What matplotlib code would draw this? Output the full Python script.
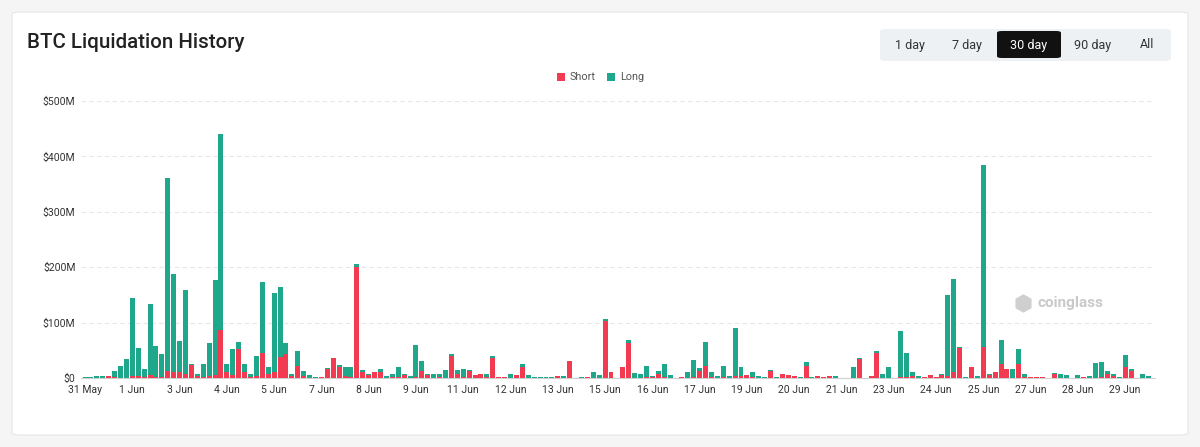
import matplotlib
matplotlib.use("Agg")
import matplotlib.pyplot as plt
from matplotlib.patches import FancyBboxPatch, Rectangle
import numpy as np

plt.rcParams['font.family'] = ['Roboto', 'DejaVu Sans']

# 4-hour buckets, values in $M
short = [0.3, 0.3, 0.5, 0.5, 3.5, 1, 0.5, 0.5, 4, 4,
         1, 5, 1, 1, 12.6, 11, 11, 7, 24, 4,
         1, 3.5, 6, 87, 10, 6, 53, 11, 2, 4,
         45, 7, 11, 38, 43, 4, 22, 4, 0.5, 0.5,
         2, 17, 36, 20, 4, 1, 201, 11, 5, 10,
         11, 0.5, 1, 1, 6, 0.5, 2.4, 13, 5, 0.5,
         1, 0.5, 40, 7, 1, 13, 5, 7, 2, 37,
         2.4, 2, 0.5, 5, 19, 0.5, 0.3, 0.3, 0.7, 0.7,
         3.6, 0.5, 30, 0, 0.3, 1.2, 0.5, 0.3, 103, 10,
         0.3, 19, 64, 0.5, 0.5, 2.5, 2.5, 7, 2, 0.3,
         0, 2, 0.3, 2, 13, 22, 2, 0.3, 2.4, 0.3,
         4, 4, 5, 2.4, 0.3, 0.3, 12.6, 0.3, 7, 5.4,
         4, 0.2, 22, 0.2, 3, 2, 3.6, 0.3, 0.3, 0.3,
         0.5, 34, 0.3, 3.6, 45, 0.5, 0.5, 0.3, 1, 1.5,
         4, 0.5, 2, 5, 2, 5, 4, 11, 54, 0.2,
         19, 0.3, 56, 5, 10, 25, 16, 0.5, 26, 2,
         2, 1.5, 1.5, 0.2, 8, 0.3, 0.3, 0.2, 0.3, 2.4,
         0.3, 0.5, 2, 8, 4, 0.3, 19, 13, 0.2, 0.3,
         0.3]
long = [0.7, 0.7, 3, 3, 0.8, 11.5, 20.5, 34.5, 141, 51,
        15, 129, 57, 42, 348, 176, 55, 151, 2, 3,
        25, 59.5, 170, 353, 15, 46, 12, 14, 6, 36,
        128, 12, 143, 127, 21, 4, 26, 8.6, 4.5, 1.5,
        0.3, 0.5, 1, 3, 16.5, 19.5, 4, 3, 3, 1,
        5, 3.5, 6, 19, 2, 3, 57.6, 17, 2, 6.5,
        6, 13.5, 3, 7.5, 16, 1.5, 0.3, 1, 6, 3,
        0.3, 0.3, 7.5, 0.3, 6, 4.5, 1.7, 0.7, 0.3, 0.3,
        0.3, 2.5, 0.5, 0, 1.2, 0.3, 9.5, 5.2, 3, 1.5,
        0.5, 1, 4, 8, 7.5, 19.5, 0.3, 5, 23, 5.2,
        0, 0, 9.7, 30, 5, 43, 8, 3.3, 19.6, 3.3,
        87, 15, 0.3, 7.6, 3.7, 0.7, 1.4, 2.1, 0.3, 0.3,
        0.3, 1, 6, 1, 0.2, 0.2, 0.2, 2.7, 0.5, 0.5,
        18.5, 3, 0.5, 0.2, 3, 7.5, 18.5, 0.5, 84, 44.5,
        6, 3.5, 0.2, 0.3, 0.2, 2, 145, 168, 2, 1,
        0.3, 3.7, 328, 3, 0.5, 43, 0.5, 15.5, 27, 5,
        0.2, 0.2, 0.2, 0.5, 1, 7.7, 5.7, 0.5, 4.7, 0.2,
        3.7, 26.5, 26, 4, 3, 2, 22, 3, 0.3, 7,
        3.3]
tick_labels = ["31 May", "1 Jun", "3 Jun", "4 Jun", "5 Jun", "7 Jun", "8 Jun",
               "9 Jun", "11 Jun", "12 Jun", "13 Jun", "15 Jun", "16 Jun", "17 Jun",
               "19 Jun", "20 Jun", "21 Jun", "23 Jun", "24 Jun", "25 Jun",
               "27 Jun", "28 Jun", "29 Jun"]
y_ticks = [0, 100, 200, 300, 400, 500]
y_labels = ["$0", "$100M", "$200M", "$300M", "$400M", "$500M"]
buttons = ["1 day", "7 day", "30 day", "90 day", "All"]

RED = '#f23b51'
TEAL = '#1fa78c'

W, H = 1200, 447
fig = plt.figure(figsize=(W / 100, H / 100), dpi=100)
fig.patch.set_facecolor('#f5f5f5')

# white card
card = FancyBboxPatch((12 / W, 12 / H), (1176) / W, (423) / H,
                      boxstyle="round,pad=0,rounding_size=0.006",
                      transform=fig.transFigure, facecolor='white',
                      edgecolor='#e6e6e6', linewidth=0.8, zorder=-10)
fig.patches.append(card)

ax = fig.add_axes([81 / W, (H - 378) / H, (1155 - 81) / W, (378 - 101) / H])
ax.set_zorder(5)
ax.set_facecolor('none')
x = np.arange(len(short))
ax.bar(x, short, width=0.84, color=RED, linewidth=0, zorder=3)
ax.bar(x, long, bottom=short, width=0.84, color=TEAL, linewidth=0, zorder=3)

ax.set_xlim(-0.68, 181.05)
ax.set_ylim(0, 500)
ax.set_yticks(y_ticks)
ax.set_yticklabels(y_labels)
ax.set_xticks(np.arange(len(tick_labels)) * 8)
ax.set_xticklabels(tick_labels)
ax.tick_params(axis='both', length=0, labelsize=7.5, colors='#333333')
ax.tick_params(axis='x', pad=5)
ax.tick_params(axis='y', pad=4)
for s in ['top', 'right', 'left']:
    ax.spines[s].set_visible(False)
ax.spines['bottom'].set_color('#d0d0d0')
ax.spines['bottom'].set_linewidth(0.8)
ax.yaxis.grid(True, color='#e6e6e6', linestyle=(0, (4, 3)), linewidth=0.8, zorder=0)
ax.set_axisbelow(True)

# watermark
ax.text(0.891, 0.27, "coinglass", transform=ax.transAxes, fontsize=11,
        fontweight='bold', color='#c9c9c9', ha='left', va='center', zorder=1)
ax.scatter([0.877], [0.27], transform=ax.transAxes, s=150, marker='h',
           color='#cfcfcf', zorder=1)

# title
fig.text(27 / W, 1 - 42 / H, "BTC Liquidation History", fontsize=14.8,
         fontweight='medium', color='#222222', ha='left', va='center')

# legend
for lx, lab, col in [(557, "Short", RED), (607, "Long", TEAL)]:
    fig.patches.append(Rectangle((lx / W, 1 - 81 / H), 8 / W, 8 / H,
                                 transform=fig.transFigure, facecolor=col,
                                 edgecolor='none'))
    fig.text((lx + 13) / W, 1 - 77 / H, lab, fontsize=7.8, color='#555555',
             ha='left', va='center')

# period buttons
grp = FancyBboxPatch((880 / W, 1 - 61 / H), (1171 - 880) / W, 32 / H,
                     boxstyle="round,pad=0,rounding_size=0.005",
                     transform=fig.transFigure, facecolor='#eef1f4',
                     edgecolor='none', zorder=-5)
fig.patches.append(grp)
act = FancyBboxPatch((997 / W, 1 - 58 / H), 64 / W, 27 / H,
                     boxstyle="round,pad=0,rounding_size=0.004",
                     transform=fig.transFigure, facecolor='#111111',
                     edgecolor='none', zorder=-4)
fig.patches.append(act)
bx = [910, 967, 1029, 1093, 1147]
for b, lab in zip(bx, buttons):
    fig.text(b / W, 1 - 45 / H, lab, fontsize=9,
             color='white' if lab == "30 day" else '#333333',
             ha='center', va='center')

fig.savefig("out.png", dpi=100, facecolor=fig.get_facecolor())
